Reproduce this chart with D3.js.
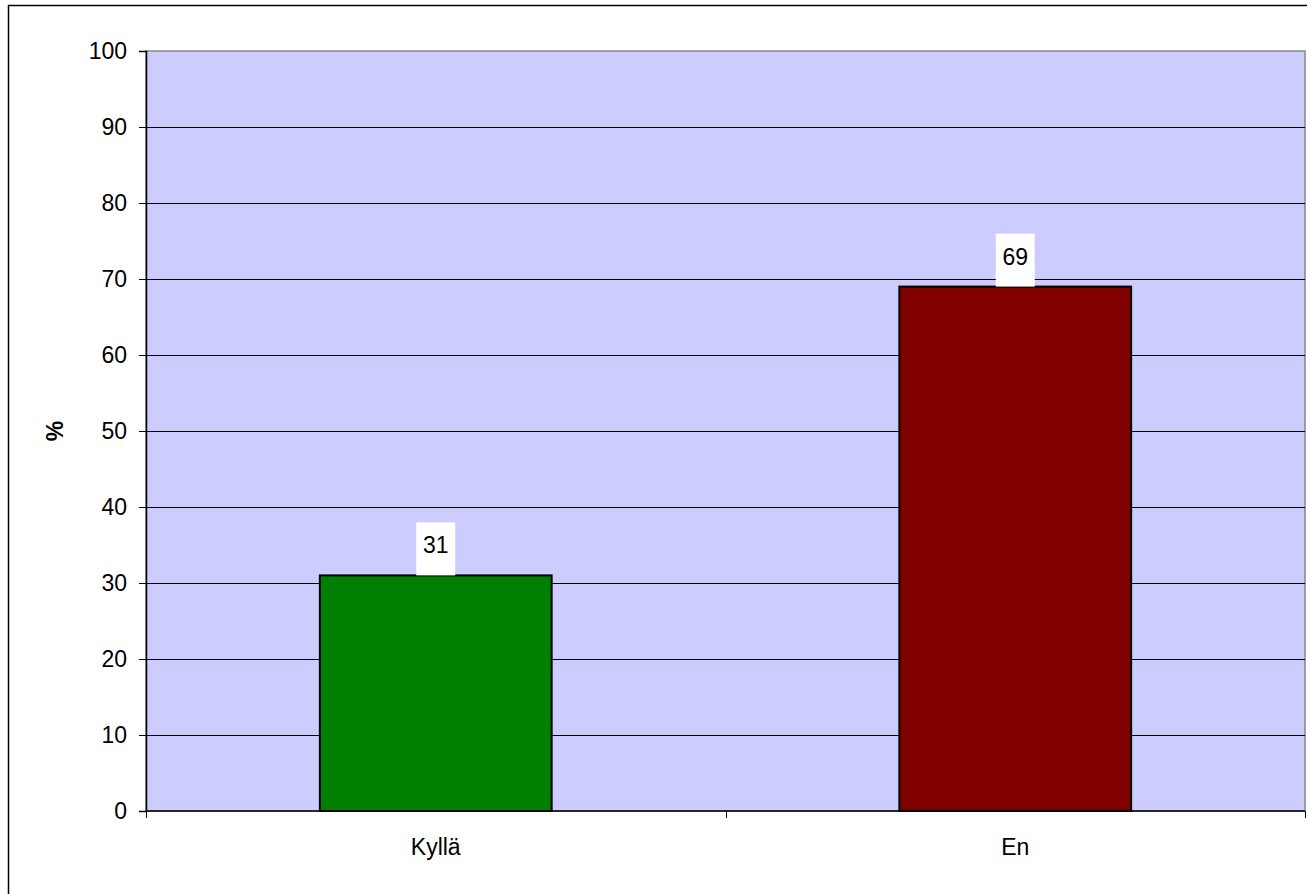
<!DOCTYPE html>
<html>
<head>
<meta charset="utf-8">
<script src="https://cdn.jsdelivr.net/npm/d3@7"></script>
<style>
  body { margin: 0; background: #fff; }
  text { font-family: Arial, "Liberation Sans", sans-serif; }
</style>
</head>
<body>
<div id="chart"></div>
<script>
// chart data
var categories = ["Kyllä", "En"];
var values = [31, 69];
var barColors = ["#008000", "#800000"];
var yTicks = [0, 10, 20, 30, 40, 50, 60, 70, 80, 90, 100];
var yTitle = "%";

var width = 1307, height = 894;
var plot = { left: 146, top: 51, right: 1305, bottom: 811 };
var fontSize = "23px";

var svg = d3.select("#chart").append("svg")
    .attr("width", width)
    .attr("height", height);

// outer chart border (runs off the bottom / right like the screenshot)
svg.append("rect")
    .attr("x", 8.5).attr("y", 5.5)
    .attr("width", 1310).attr("height", 900)
    .attr("fill", "#fff")
    .attr("stroke", "#000")
    .attr("stroke-width", 1.5);

var x = d3.scaleBand()
    .domain(categories)
    .range([plot.left, plot.right])
    .paddingInner(0.6)
    .paddingOuter(0.3);

var y = d3.scaleLinear()
    .domain([0, 100])
    .range([plot.bottom, plot.top]);

// plot background
svg.append("rect")
    .attr("x", plot.left).attr("y", plot.top)
    .attr("width", plot.right - plot.left)
    .attr("height", plot.bottom - plot.top)
    .attr("fill", "#ccccff")
    .attr("stroke", "#888")
    .attr("stroke-width", 1.5);

// gridlines
svg.append("g").selectAll("line")
    .data(yTicks.filter(function (d) { return d > 0 && d < 100; }))
    .enter().append("line")
    .attr("x1", plot.left).attr("x2", plot.right)
    .attr("y1", function (d) { return Math.round(y(d)) + 0.5; })
    .attr("y2", function (d) { return Math.round(y(d)) + 0.5; })
    .attr("stroke", "#000")
    .attr("stroke-width", 1);

// bars
svg.append("g").selectAll("rect")
    .data(values)
    .enter().append("rect")
    .attr("x", function (d, i) { return x(categories[i]); })
    .attr("y", function (d) { return y(d); })
    .attr("width", x.bandwidth())
    .attr("height", function (d) { return plot.bottom - y(d); })
    .attr("fill", function (d, i) { return barColors[i]; })
    .attr("stroke", "#000")
    .attr("stroke-width", 2);

// y axis
var yAxis = d3.axisLeft(y).tickValues(yTicks).tickSize(7).tickPadding(12);
var gy = svg.append("g")
    .attr("transform", "translate(" + plot.left + ",0)")
    .call(yAxis);
gy.select(".domain").attr("stroke", "#000").attr("stroke-width", 1.5);
gy.selectAll(".tick line").attr("stroke", "#000");
gy.selectAll(".tick text")
    .attr("fill", "#000")
    .style("font-size", fontSize)
    .style("font-family", "Arial, 'Liberation Sans', sans-serif");

// x axis: ticks on category boundaries
var gx = svg.append("g");
gx.append("line")
    .attr("x1", plot.left).attr("x2", plot.right)
    .attr("y1", plot.bottom).attr("y2", plot.bottom)
    .attr("stroke", "#000").attr("stroke-width", 1.5);
var bounds = [plot.left, (plot.left + plot.right) / 2, plot.right];
gx.selectAll(".xt")
    .data(bounds)
    .enter().append("line")
    .attr("x1", function (d) { return Math.round(d) + 0.5; })
    .attr("x2", function (d) { return Math.round(d) + 0.5; })
    .attr("y1", plot.bottom).attr("y2", plot.bottom + 7)
    .attr("stroke", "#000");

svg.append("g").selectAll("text")
    .data(categories)
    .enter().append("text")
    .attr("x", function (d) { return x(d) + x.bandwidth() / 2; })
    .attr("y", 855)
    .attr("text-anchor", "middle")
    .style("font-size", fontSize)
    .text(function (d) { return d; });

// value labels with white boxes
var labels = svg.append("g").selectAll("g")
    .data(values)
    .enter().append("g")
    .attr("transform", function (d, i) {
        return "translate(" + (x(categories[i]) + x.bandwidth() / 2) + "," + y(d) + ")";
    });
labels.append("rect")
    .attr("x", -19.5).attr("y", -53)
    .attr("width", 39).attr("height", 53)
    .attr("fill", "#fff");
labels.append("text")
    .attr("x", 0).attr("y", -22)
    .attr("text-anchor", "middle")
    .style("font-size", fontSize)
    .text(function (d) { return d; });

// y title
svg.append("text")
    .attr("transform", "translate(63," + ((plot.top + plot.bottom) / 2) + ") rotate(-90)")
    .attr("text-anchor", "middle")
    .style("font-size", fontSize)
    .style("font-weight", "bold")
    .text(yTitle);
</script>
</body>
</html>
